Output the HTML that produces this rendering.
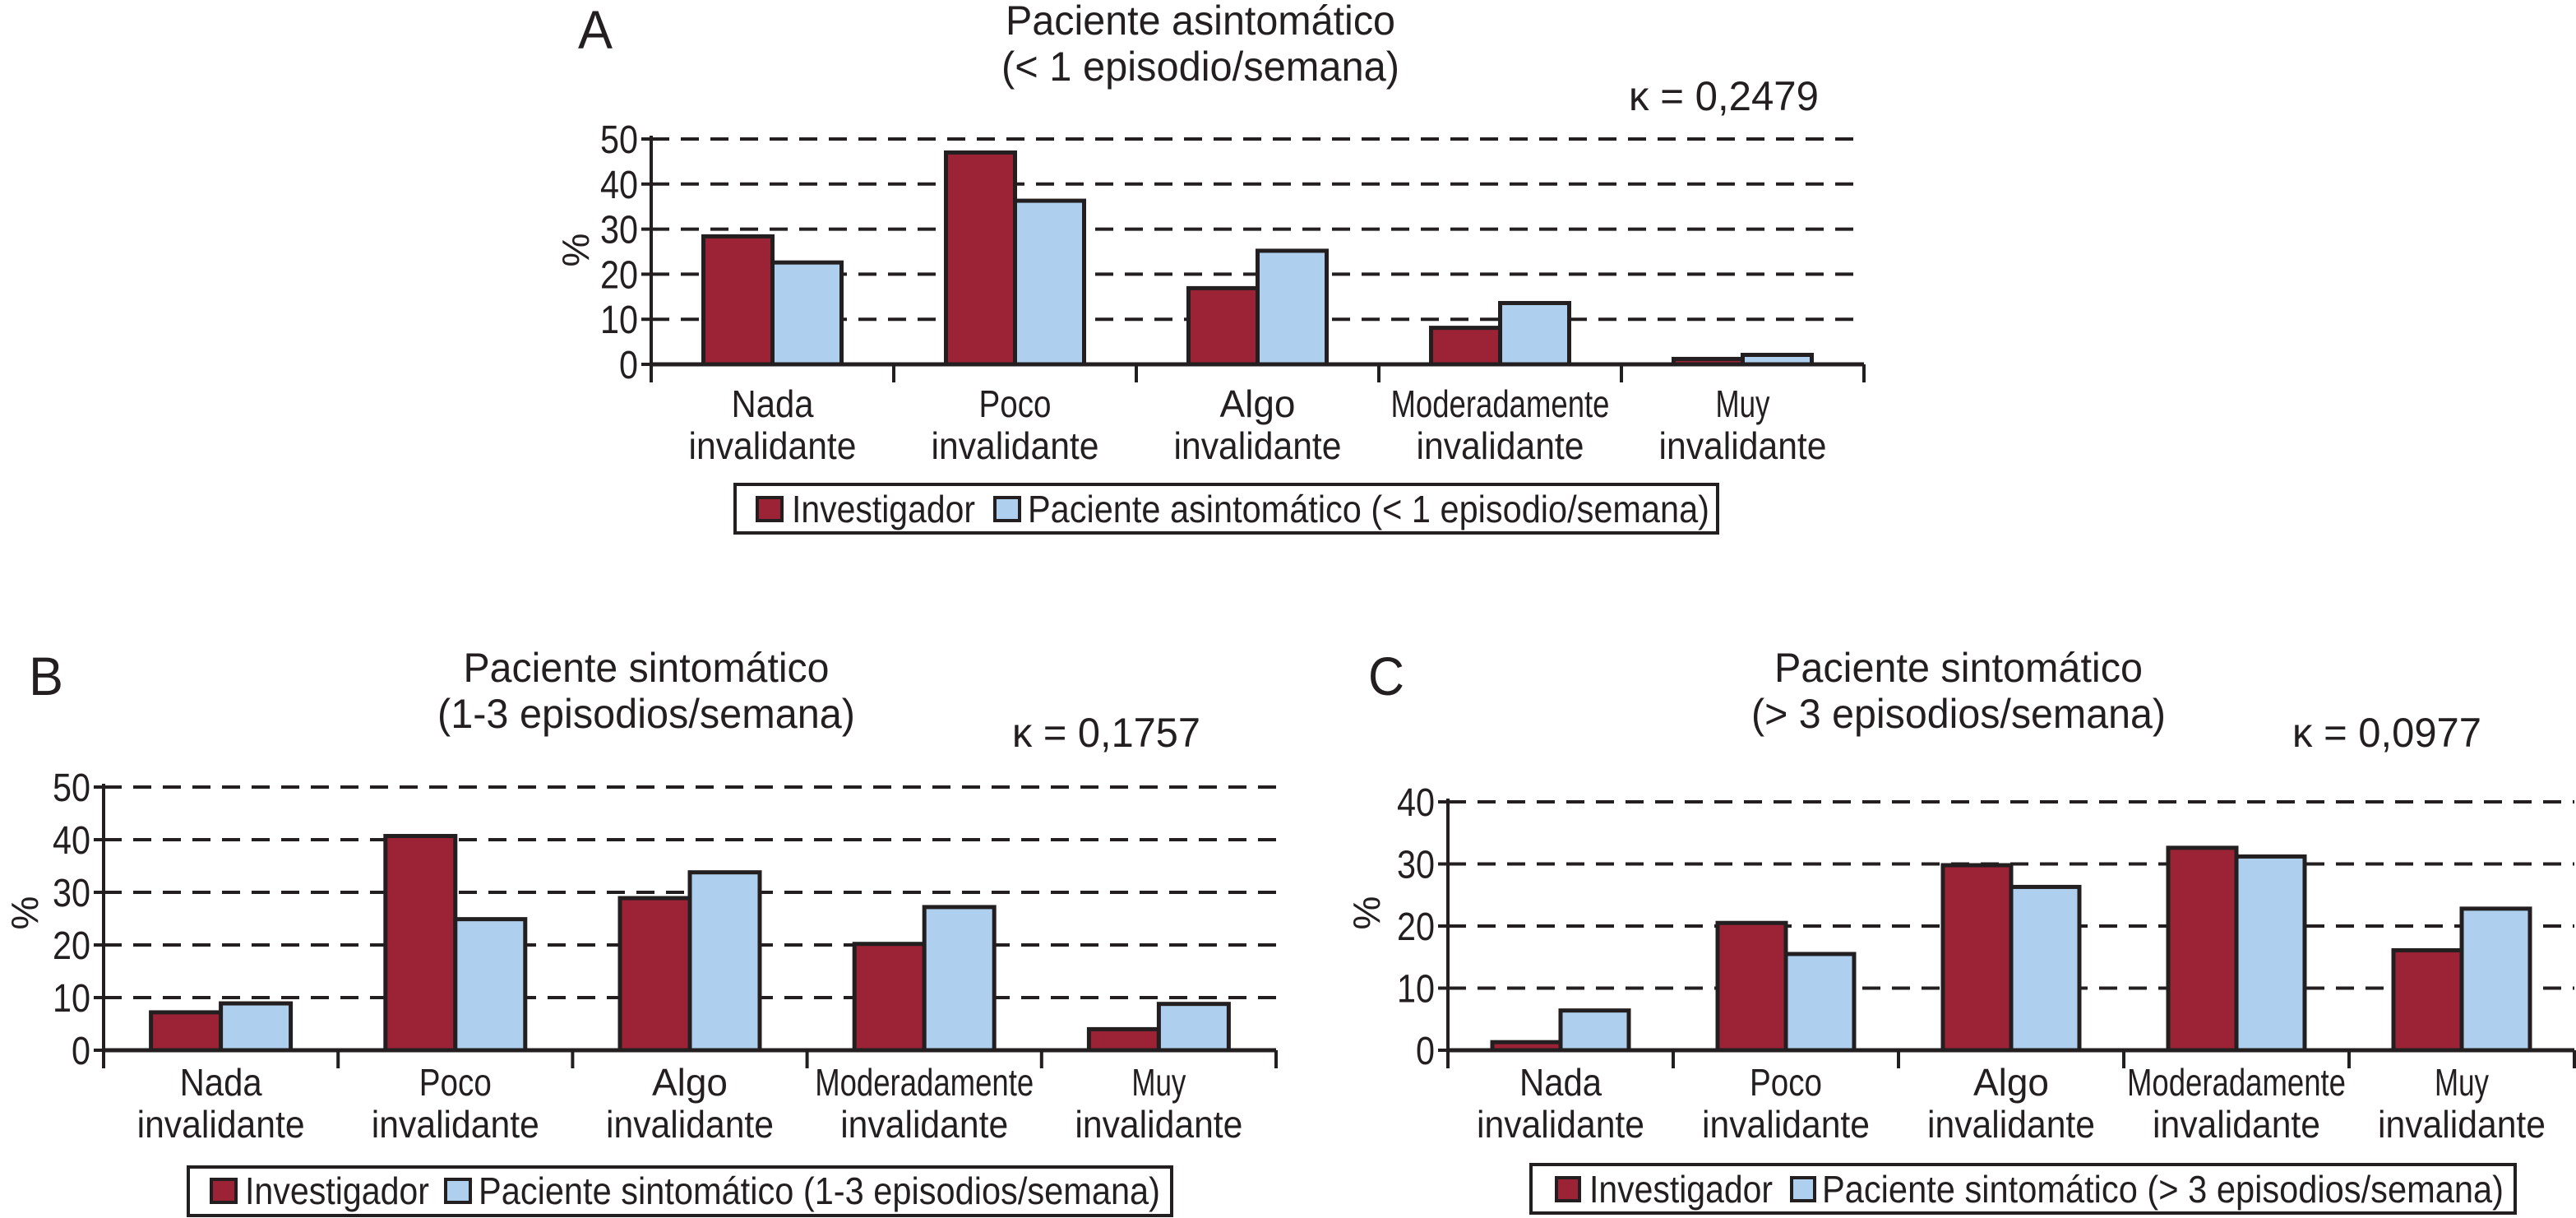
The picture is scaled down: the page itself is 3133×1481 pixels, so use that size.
<!DOCTYPE html>
<html><head><meta charset="utf-8"><style>
html,body{margin:0;padding:0;background:#fff;}
svg{display:block;font-family:"Liberation Sans",sans-serif;fill:#231f20;}
</style></head><body>
<svg id="s" width="3133" height="1481" viewBox="0 0 3133 1481" xmlns="http://www.w3.org/2000/svg"></svg>
<script>
const categories = [["Nada","invalidante"],["Poco","invalidante"],["Algo","invalidante"],["Moderadamente","invalidante"],["Muy","invalidante"]];
const ticksA = [0,10,20,30,40,50];
const ticksB = [0,10,20,30,40,50];
const ticksC = [0,10,20,30,40];
const investigadorA = [28.4, 47.0, 16.9, 8.1, 1.2];
const pacienteA = [22.6, 36.3, 25.2, 13.6, 2.1];
const investigadorB = [7.2, 40.7, 28.9, 20.2, 4.0];
const pacienteB = [8.9, 24.9, 33.8, 27.2, 8.8];
const investigadorC = [1.3, 20.5, 29.8, 32.6, 16.1];
const pacienteC = [6.4, 15.5, 26.3, 31.2, 22.8];
const kappaLabels = ["κ = 0,2479","κ = 0,1757","κ = 0,0977"];

const NS="http://www.w3.org/2000/svg";
const svg=document.getElementById('s');
const RED="#9b2335", BLUE="#aecfed", INK="#231f20";
const WORDW={"Nada":100,"Poco":88,"Algo":92,"Moderadamente":266,"Muy":66,"invalidante":204};
function el(tag,attrs,parent){const e=document.createElementNS(NS,tag);for(const k in attrs)e.setAttribute(k,attrs[k]);(parent||svg).appendChild(e);return e;}
function txt(s,attrs,parent){const e=el('text',attrs,parent);e.textContent=s;return e;}

const panels=[
 {id:'a',letter:'A',lx:703,ly:59,x0:792,x1:2267,yTop:169,yZero:443,ticks:ticksA,inv:investigadorA,pac:pacienteA,bw:84,
  t1:"Paciente asintomático",t2:"(< 1 episodio/semana)",tcx:1460,tb1:42,tb2:98,tw1:474,tw2:484,
  kx:1981,kb:134,kw:231,kap:kappaLabels[0],pctx:700,pcty:304,lab1:64,lab2:115,
  leg:{x:894,y:589,w:1195,h:59,rs:921,sy:605,sh:28,sw:30,it:963,iw:223,bs:1210,pt:1250,pw:829,
  label:"Paciente asintomático (< 1 episodio/semana)"}},
 {id:'b',letter:'B',lx:35,ly:845,x0:126,x1:1552,yTop:957,yZero:1277,ticks:ticksB,inv:investigadorB,pac:pacienteB,bw:85,
  t1:"Paciente sintomático",t2:"(1-3 episodios/semana)",tcx:786,tb1:829,tb2:885,tw1:445,tw2:508,
  kx:1231,kb:908,kw:229,kap:kappaLabels[1],pctx:30,pcty:1110,lab1:55,lab2:106,
  leg:{x:229,y:1419,w:1196,h:59,rs:257,sy:1434,sh:28,sw:30,it:298,iw:224,bs:542,pt:582,pw:829,
  label:"Paciente sintomático (1-3 episodios/semana)"}},
 {id:'c',letter:'C',lx:1664,ly:845,x0:1761,x1:3131,yTop:975,yZero:1277,ticks:ticksC,inv:investigadorC,pac:pacienteC,bw:83,
  t1:"Paciente sintomático",t2:"(> 3 episodios/semana)",tcx:2382,tb1:829,tb2:885,tw1:448,tw2:504,
  kx:2788,kb:908,kw:230,kap:kappaLabels[2],pctx:1662,pcty:1110,lab1:55,lab2:106,
  leg:{x:1862,y:1416,w:1197,h:59,rs:1893,sy:1432,sh:28,sw:28,it:1933,iw:223,bs:2179,pt:2216,pw:829,
  label:"Paciente sintomático (> 3 episodios/semana)"}}
];

panels.forEach(p=>{
  const g=el('g',{});
  
  
  const maxV=p.ticks[p.ticks.length-1];
  const y=v=>p.yZero-(v/maxV)*(p.yZero-p.yTop);
  const n=categories.length, gw=(p.x1-p.x0)/n;
  const gx=i=>p.x0+gw*i;

  const L=txt(p.letter,{x:p.lx,y:p.ly,'font-size':66,textLength:p.letter==='C'?44:42,lengthAdjust:'spacingAndGlyphs'},g);
  
  
  const t1=txt(p.t1,{x:p.tcx,y:p.tb1,'font-size':50,'text-anchor':'middle',textLength:p.tw1,lengthAdjust:'spacingAndGlyphs'},g);
  
  
  const t2=txt(p.t2,{x:p.tcx,y:p.tb2,'font-size':50,'text-anchor':'middle',textLength:p.tw2,lengthAdjust:'spacingAndGlyphs'},g);
  
  
  const k=txt(p.kap,{x:p.kx,y:p.kb,'font-size':50,textLength:p.kw,lengthAdjust:'spacingAndGlyphs'},g);
  
  

  p.ticks.forEach(t=>{
    if(t>0){
      const gl=el('line',{x1:p.x0,x2:p.x1,y1:y(t),y2:y(t),stroke:INK,'stroke-width':4,'stroke-dasharray':'22,14'},g);
      
      
    }
    const tk=el('line',{x1:p.x0-12,x2:p.x0,y1:y(t),y2:y(t),stroke:INK,'stroke-width':4},g);
    
    
    const tl=txt(String(t),{x:p.x0-16,y:y(t)+17,'font-size':48,'text-anchor':'end',textLength:String(t).length*23,lengthAdjust:'spacingAndGlyphs'},g);
    
    
  });
  const pc=txt('%',{x:0,y:0,'font-size':46,'text-anchor':'middle',transform:`translate(${p.pctx+16},${p.pcty}) rotate(-90)`},g);
  
  

  for(let i=0;i<n;i++){
    const cx=gx(i)+gw/2;
    const r=el('rect',{x:cx-p.bw,y:y(p.inv[i]),width:p.bw,height:p.yZero-y(p.inv[i]),fill:RED,stroke:INK,'stroke-width':5},g);
    
    
    const b=el('rect',{x:cx,y:y(p.pac[i]),width:p.bw,height:p.yZero-y(p.pac[i]),fill:BLUE,stroke:INK,'stroke-width':5},g);
    
    
    const c1=txt(categories[i][0],{x:cx,y:p.yZero+p.lab1,'font-size':46,'text-anchor':'middle',textLength:WORDW[categories[i][0]]||100,lengthAdjust:'spacingAndGlyphs'},g);
    
    
    const c2=txt(categories[i][1],{x:cx,y:p.yZero+p.lab2,'font-size':46,'text-anchor':'middle',textLength:WORDW[categories[i][1]]||200,lengthAdjust:'spacingAndGlyphs'},g);
    
    
  }
  const ya=el('line',{x1:p.x0,x2:p.x0,y1:p.yTop-4,y2:p.yZero+22,stroke:INK,'stroke-width':4},g);
  
  
  const xa=el('line',{x1:p.x0,x2:p.x1,y1:p.yZero,y2:p.yZero,stroke:INK,'stroke-width':5},g);
  
  
  for(let i=0;i<=n;i++){
    const xt=el('line',{x1:gx(i),x2:gx(i),y1:p.yZero,y2:p.yZero+22,stroke:INK,'stroke-width':4},g);
    
    
  }
  const lg=p.leg;
  const lgg=el('g',{},g);
  
  
  el('rect',{x:lg.x,y:lg.y,width:lg.w,height:lg.h,fill:'#fff',stroke:INK,'stroke-width':4},lgg);
  const s1=el('rect',{x:lg.rs,y:lg.sy,width:lg.sw,height:lg.sh,fill:RED,stroke:INK,'stroke-width':4},lgg);
  
  
  const l1=txt('Investigador',{x:lg.it,y:lg.sy+lg.sh+2,'font-size':46,textLength:lg.iw,lengthAdjust:'spacingAndGlyphs'},lgg);
  
  
  const s2=el('rect',{x:lg.bs,y:lg.sy,width:lg.sw,height:lg.sh,fill:BLUE,stroke:INK,'stroke-width':4},lgg);
  
  
  const l2=txt(lg.label,{x:lg.pt,y:lg.sy+lg.sh+2,'font-size':46,textLength:lg.pw,lengthAdjust:'spacingAndGlyphs'},lgg);
  
  
});
</script>
</body></html>
